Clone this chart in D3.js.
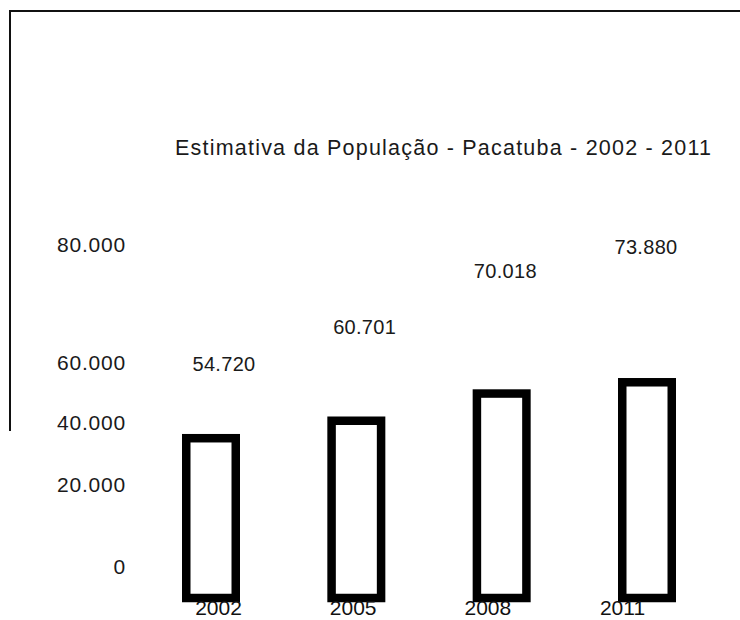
<!DOCTYPE html>
<html>
<head>
<meta charset="utf-8">
<script src="https://cdn.jsdelivr.net/npm/d3@7"></script>
<style>
  html, body { margin: 0; padding: 0; background: #fff; }
  svg { display: block; font-family: "Liberation Sans", Arial, sans-serif; }
</style>
</head>
<body>
<svg id="chart" width="740" height="620"></svg>
<script>
const title = "Estimativa da População - Pacatuba - 2002 - 2011";
const years = ["2002", "2005", "2008", "2011"];
const population = [54720, 60701, 70018, 73880];
const tickValues = [0, 20000, 40000, 60000, 80000];

const svg = d3.select("#chart");
const fmt = v => d3.format(",")(v).replace(/,/g, ".");

// frame lines (scanned page border)
svg.append("line").attr("x1", 10).attr("x2", 740).attr("y1", 11).attr("y2", 11)
  .attr("stroke", "#111").attr("stroke-width", 2);
svg.append("line").attr("x1", 10).attr("x2", 10).attr("y1", 10).attr("y2", 431)
  .attr("stroke", "#111").attr("stroke-width", 2);

// title
svg.append("text").attr("x", 175).attr("y", 155)
  .attr("font-size", 21.5).attr("fill", "#1a1a1a")
  .attr("textLength", 536).attr("lengthAdjust", "spacing")
  .text(title);

// scales
const xBar = d3.scalePoint().domain(years).range([211, 647]);
const xYear = d3.scalePoint().domain(years).range([218, 622]);
const xVal = d3.scalePoint().domain(years).range([224, 646]);
const yBar = d3.scaleLinear().domain([0, 80000]).range([598, 364.4]);
const yVal = d3.scaleLinear().domain([0, 80000]).range([697, 210]);
// axis labels as placed on the (distorted) scanned chart
const yTick = d3.scaleLinear().domain(tickValues).range([567, 485, 423, 362.5, 244.5]);

const barW = 49.5;
const data = years.map((y, i) => ({ year: y, value: population[i] }));

// bars
svg.append("g").selectAll("rect").data(data).join("rect")
  .attr("x", d => xBar(d.year) - barW / 2)
  .attr("y", d => yBar(d.value))
  .attr("width", barW)
  .attr("height", d => yBar(0) - yBar(d.value))
  .attr("fill", "#fff")
  .attr("stroke", "#000")
  .attr("stroke-width", 8.5);

// value labels
svg.append("g").selectAll("text").data(data).join("text")
  .attr("x", d => xVal(d.year))
  .attr("y", d => yVal(d.value))
  .attr("dy", "0.35em")
  .attr("text-anchor", "middle")
  .attr("font-size", 20)
  .attr("letter-spacing", 0.3)
  .attr("fill", "#1a1a1a")
  .text(d => fmt(d.value));

// y axis tick labels
const yAxis = d3.axisLeft(yTick).tickValues(tickValues).tickFormat(fmt).tickSize(0).tickPadding(0);
const gy = svg.append("g").attr("transform", "translate(126,0)").call(yAxis);
gy.select(".domain").remove();
gy.selectAll("text").attr("font-size", 21).attr("fill", "#1a1a1a")
  .attr("letter-spacing", 0.8)
  .attr("font-family", "'Liberation Sans', Arial, sans-serif");

// x axis labels
const xAxis = d3.axisBottom(xYear).tickSize(0).tickPadding(0);
const gx = svg.append("g").attr("transform", "translate(0,600)").call(xAxis);
gx.select(".domain").remove();
gx.selectAll("text").attr("font-size", 21).attr("fill", "#111")
  .attr("font-family", "'Liberation Sans', Arial, sans-serif");
</script>
</body>
</html>
